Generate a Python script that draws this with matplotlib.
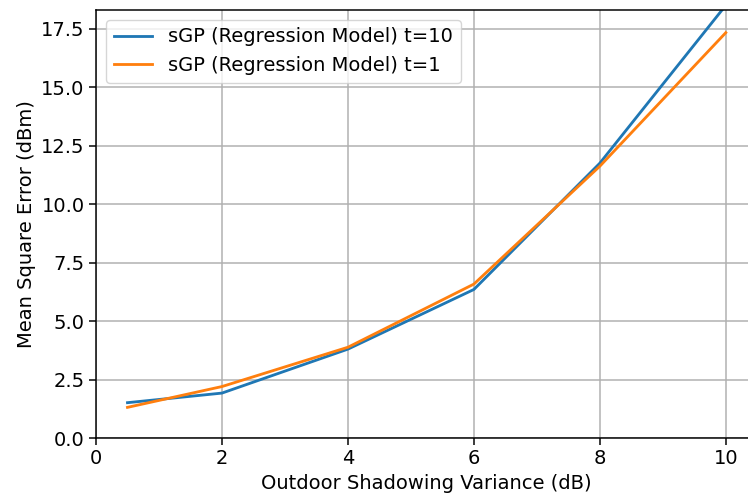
import numpy as np
import matplotlib
matplotlib.use("Agg")
import matplotlib.pyplot as plt

# shadowing variance (dB)
variance = [0.5, 2, 4, 6, 8, 10]
# mean square error (dBm)
mse_t10 = [1.51, 1.92, 3.80, 6.35, 11.75, 18.5]
mse_t1 = [1.31, 2.20, 3.88, 6.58, 11.62, 17.33]

scale = 1.35
plt.rcParams["font.size"] = 14.0

fig = plt.figure(figsize=(7.48, 5.0), dpi=100)
ax = fig.add_axes([96 / 748, 62 / 500, 660 / 748, 428 / 500])

ax.plot(variance, mse_t10, color="#1f77b4", lw=1.5 * scale, label="sGP (Regression Model) t=10")
ax.plot(variance, mse_t1, color="#ff7f0e", lw=1.5 * scale, label="sGP (Regression Model) t=1")

ax.set_xlim(0, 10.48)
ax.set_ylim(0, 18.3)
ax.set_xticks([0, 2, 4, 6, 8, 10])
ax.set_yticks(np.arange(0, 18, 2.5))
ax.grid(True, color="#b0b0b0", lw=0.8 * scale)
ax.tick_params(width=0.8 * scale, length=3.5 * scale)
for s in ax.spines.values():
    s.set_linewidth(0.8 * scale)

ax.set_xlabel("Outdoor Shadowing Variance (dB)")
ax.set_ylabel("Mean Square Error (dBm)")
ax.legend(loc="upper left", framealpha=0.8)

fig.savefig("out.png", dpi=100)
